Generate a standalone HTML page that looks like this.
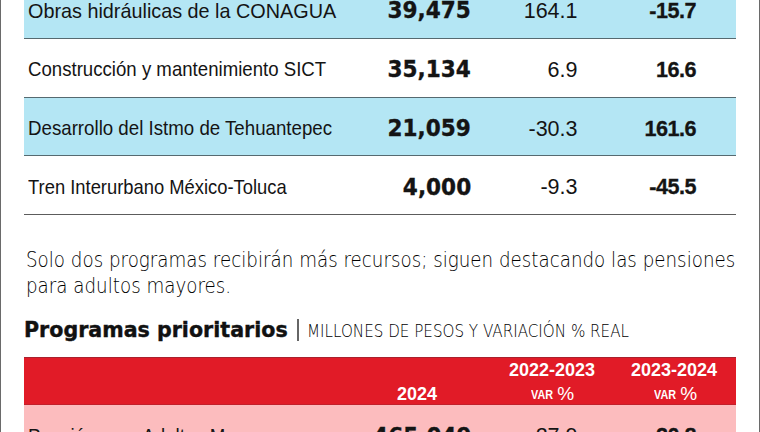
<!DOCTYPE html>
<html lang="es">
<head>
<meta charset="utf-8">
<title>Programas prioritarios</title>
<style>
  html, body { margin: 0; padding: 0; }
  body { width: 760px; height: 432px; position: relative; overflow: hidden; background: #ffffff;
         font-family: "Liberation Sans", "DejaVu Sans", sans-serif; color: #141414; }
  .vl { position: absolute; top: 0; width: 1px; height: 432px; background: #6a6a6a; }
  .band { position: absolute; left: 24px; width: 712px; }
  .blue { background: #b4e6f4; }
  .sep { position: absolute; left: 24px; width: 712px; height: 1px; background: #566a70; }
  .t { position: absolute; white-space: nowrap; line-height: 1; }
  .lab { left: 28px; font-size: 21px; transform-origin: left center; }
  .n1 { font-family: "DejaVu Sans", sans-serif; font-weight: bold; font-size: 22.5px; text-align: right; transform: scaleX(0.96); transform-origin: right center; -webkit-text-stroke: 0.35px #141414; }
  .n2 { font-size: 21.5px; text-align: right; }
  .n3 { font-weight: bold; font-size: 21.6px; text-align: right; letter-spacing: -0.5px; -webkit-text-stroke: 0.3px #141414; }
  .red { background: #e11b27; }
  .pink { background: #fcbcbe; }
  .para { left: 26px; font-family: "DejaVu Sans", sans-serif; font-weight: 200; font-size: 21.5px; color: #000; line-height: 26px; transform: scaleX(0.85); transform-origin: left center; }
  .h { left: 24px; font-family: "DejaVu Sans", sans-serif; font-size: 20.6px; font-weight: bold; color: #111; -webkit-text-stroke: 0.4px #111; }
  .sub { font-family: "DejaVu Sans", sans-serif; font-weight: 200; font-size: 17.6px; color: #000; transform: scaleX(0.861); transform-origin: left center; }
  .wh { color: #fff; font-weight: bold; }
</style>
</head>
<body>
  <div class="vl" style="left:0"></div>
  <div class="vl" style="left:759px"></div>

  <!-- table 1 -->
  <div class="band blue" style="top:0;height:38px"></div>
  <div class="sep" style="top:38px"></div>
  <div class="sep" style="top:97px"></div>
  <div class="band blue" style="top:98px;height:57px"></div>
  <div class="sep" style="top:155px"></div>
  <div class="sep" style="top:214px;background:#5c5c5c"></div>

  <div class="t lab m" style="top:-0.2px;transform:scaleX(0.943)">Obras hidráulicas de la CONAGUA</div>
  <div class="t lab m" style="top:57.6px;transform:scaleX(0.887)">Construcción y mantenimiento SICT</div>
  <div class="t lab m" style="top:116.8px;transform:scaleX(0.890)">Desarrollo del Istmo de Tehuantepec</div>
  <div class="t lab m" style="top:176.4px;transform:scaleX(0.875)">Tren Interurbano México-Toluca</div>

  <div class="t n1 m" style="top:-0.7px;right:288.7px">39,475</div>
  <div class="t n1 m" style="top:58.3px;right:288.7px">35,134</div>
  <div class="t n1 m" style="top:117.3px;right:288.7px">21,059</div>
  <div class="t n1 m" style="top:175.8px;right:288.7px">4,000</div>

  <div class="t n2 m" style="top:0.5px;right:182.5px">164.1</div>
  <div class="t n2 m" style="top:59.5px;right:182.5px">6.9</div>
  <div class="t n2 m" style="top:118.5px;right:182.5px">-30.3</div>
  <div class="t n2 m" style="top:177px;right:182.5px">-9.3</div>

  <div class="t n3 m" style="top:-0.2px;right:64px">-15.7</div>
  <div class="t n3 m" style="top:58.8px;right:64px">16.6</div>
  <div class="t n3 m" style="top:117.8px;right:64px">161.6</div>
  <div class="t n3 m" style="top:175.8px;right:64px">-45.5</div>

  <!-- paragraph -->
  <div class="t para m" style="top:247.2px">Solo dos programas recibirán más recursos; siguen destacando las pensiones</div>
  <div class="t para m" style="top:273.2px">para adultos mayores.</div>

  <!-- heading -->
  <div class="t h m" style="top:319.5px">Programas prioritarios</div>
  <div class="t sub m" style="top:322.8px;left:307.2px">MILLONES DE PESOS Y VARIACIÓN % REAL</div>

  <div style="position:absolute;left:297.3px;top:319px;width:1.5px;height:22px;background:#666"></div>

  <!-- table 2 -->
  <div class="band red" style="top:357px;height:48px"></div>
  <div class="band" style="top:357px;height:1px;background:#a9222e"></div>
  <div class="band" style="top:404px;height:1px;background:#c21f2b"></div>
  <div class="band pink" style="top:405px;height:27px"></div>

  <div class="t wh m" style="top:385px;left:397px;font-size:18px">2024</div>
  <div class="t wh m" style="top:361px;left:509px;font-size:18px">2022-2023</div>
  <div class="t wh m" style="top:388px;left:531px;font-size:13.2px;transform:scaleX(0.82);transform-origin:left center">VAR</div>
  <div class="t wh m" style="top:383.5px;left:557.3px;font-size:19px;font-weight:normal">%</div>
  <div class="t wh m" style="top:361px;left:631px;font-size:18px">2023-2024</div>
  <div class="t wh m" style="top:388px;left:654.3px;font-size:13.2px;transform:scaleX(0.82);transform-origin:left center">VAR</div>
  <div class="t wh m" style="top:383.5px;left:680.3px;font-size:19px;font-weight:normal">%</div>

  <div class="t lab m" style="top:425.4px;transform:scaleX(0.890)">Pensión para Adultos Mayores</div>
  <div class="t n1 m" style="top:425px;right:288.7px">465,049</div>
  <div class="t n2 m" style="top:426px;right:182.5px">27.9</div>
  <div class="t n3 m" style="top:424.7px;right:64px">20.8</div>
</body>
</html>
